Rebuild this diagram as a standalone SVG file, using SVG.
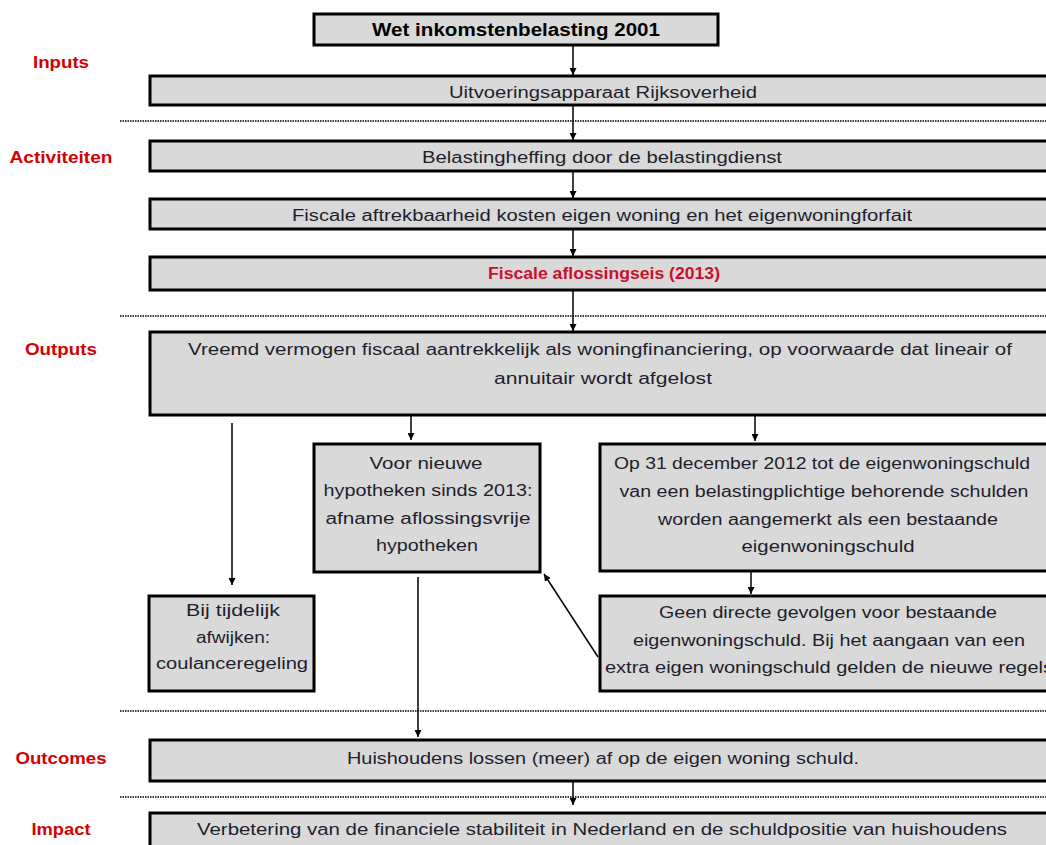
<svg xmlns="http://www.w3.org/2000/svg" width="1046" height="845" viewBox="0 0 1046 845">
<style>
.box{fill:#d9d9d9;stroke:#000;stroke-width:3}
.t{font-family:"Liberation Sans",Arial,sans-serif;font-size:16px;fill:#1e1e2e;text-anchor:middle;dominant-baseline:central}
.tb{font-family:"Liberation Sans",Arial,sans-serif;font-size:18px;font-weight:bold;fill:#000;text-anchor:middle;dominant-baseline:central}
.lbl{font-family:"Liberation Sans",Arial,sans-serif;font-size:16px;font-weight:bold;fill:#d40000;text-anchor:middle;dominant-baseline:central}
.red{fill:#c8102e;font-weight:bold}
.dot{stroke:#000;stroke-width:1.5;stroke-dasharray:1.5 1;fill:none}
.c{stroke:#000;stroke-width:1.5;fill:none;marker-end:url(#ah)}
</style>
<defs>
<marker id="ah" viewBox="0 0 10 10" refX="10" refY="5" markerWidth="7" markerHeight="7" markerUnits="userSpaceOnUse" orient="auto"><path d="M0,0 L10,5 L0,10 z" fill="#000"/></marker>
</defs>
<rect width="1046" height="845" fill="#fff"/>
<g id="labels">
<text class="lbl" x="61" y="62" textLength="56" lengthAdjust="spacingAndGlyphs">Inputs</text>
<text class="lbl" x="61" y="157" textLength="103" lengthAdjust="spacingAndGlyphs">Activiteiten</text>
<text class="lbl" x="61" y="349" textLength="72" lengthAdjust="spacingAndGlyphs">Outputs</text>
<text class="lbl" x="61" y="758" textLength="91" lengthAdjust="spacingAndGlyphs">Outcomes</text>
<text class="lbl" x="61" y="829" textLength="59" lengthAdjust="spacingAndGlyphs">Impact</text>
</g>
<g id="separators">
<line class="dot" x1="120" y1="121" x2="1046" y2="121"/>
<line class="dot" x1="120" y1="316" x2="1046" y2="316"/>
<line class="dot" x1="120" y1="711" x2="1046" y2="711"/>
<line class="dot" x1="120" y1="797" x2="1046" y2="797"/>
</g>
<g id="connectors">
<line class="c" x1="573" y1="46" x2="573" y2="75"/>
<line class="c" x1="573" y1="106" x2="573" y2="140"/>
<line class="c" x1="573" y1="172" x2="573" y2="198"/>
<line class="c" x1="573" y1="230" x2="573" y2="256"/>
<line class="c" x1="573" y1="291" x2="573" y2="331"/>
<line class="c" x1="232" y1="423" x2="232" y2="585"/>
<line class="c" x1="411" y1="416" x2="411" y2="440"/>
<line class="c" x1="755" y1="416" x2="755" y2="441"/>
<line class="c" x1="751" y1="572" x2="751" y2="594"/>
<line class="c" x1="418" y1="577" x2="418" y2="737"/>
<line class="c" x1="598" y1="657" x2="544" y2="574"/>
<line class="c" x1="573" y1="778" x2="573" y2="805"/>
</g>
<g id="n1"><rect class="box" x="314" y="14" width="404" height="31"/><text class="tb" x="516" y="30" textLength="288" lengthAdjust="spacingAndGlyphs">Wet inkomstenbelasting 2001</text></g>
<g id="n2"><rect class="box" x="150" y="76" width="910" height="29"/><text class="t" x="603" y="92" textLength="308" lengthAdjust="spacingAndGlyphs">Uitvoeringsapparaat Rijksoverheid</text></g>
<g id="n3"><rect class="box" x="150" y="141" width="910" height="30"/><text class="t" x="602" y="157" textLength="360" lengthAdjust="spacingAndGlyphs">Belastingheffing door de belastingdienst</text></g>
<g id="n4"><rect class="box" x="150" y="199" width="910" height="30"/><text class="t" x="602" y="215" textLength="620" lengthAdjust="spacingAndGlyphs">Fiscale aftrekbaarheid kosten eigen woning en het eigenwoningforfait</text></g>
<g id="n5"><rect class="box" x="150" y="257" width="910" height="33"/><text class="t red" x="604" y="273" textLength="232" lengthAdjust="spacingAndGlyphs">Fiscale aflossingseis (2013)</text></g>
<g id="n6"><rect class="box" x="150" y="332" width="910" height="83"/>
<text class="t" x="600" y="349" textLength="824" lengthAdjust="spacingAndGlyphs">Vreemd vermogen fiscaal aantrekkelijk als woningfinanciering, op voorwaarde dat lineair of</text>
<text class="t" x="603" y="378" textLength="218" lengthAdjust="spacingAndGlyphs">annuitair wordt afgelost</text></g>
<g id="n7"><rect class="box" x="314" y="444" width="226" height="128"/>
<text class="t" x="426" y="463" font-size="17" textLength="113" lengthAdjust="spacingAndGlyphs">Voor nieuwe</text>
<text class="t" x="428" y="490" font-size="17" textLength="209" lengthAdjust="spacingAndGlyphs">hypotheken sinds 2013:</text>
<text class="t" x="428" y="518" font-size="17" textLength="205" lengthAdjust="spacingAndGlyphs">afname aflossingsvrije</text>
<text class="t" x="427" y="545" font-size="17" textLength="102" lengthAdjust="spacingAndGlyphs">hypotheken</text></g>
<g id="n8"><rect class="box" x="600" y="444" width="460" height="127"/>
<text class="t" x="822" y="463" font-size="17" textLength="416" lengthAdjust="spacingAndGlyphs">Op 31 december 2012 tot de eigenwoningschuld</text>
<text class="t" x="824" y="491" font-size="17" textLength="409" lengthAdjust="spacingAndGlyphs">van een belastingplichtige behorende schulden</text>
<text class="t" x="828" y="519" font-size="17" textLength="340" lengthAdjust="spacingAndGlyphs">worden aangemerkt als een bestaande</text>
<text class="t" x="828" y="546" font-size="17" textLength="173" lengthAdjust="spacingAndGlyphs">eigenwoningschuld</text></g>
<g id="n9"><rect class="box" x="149" y="596" width="165" height="95"/>
<text class="t" x="233" y="610" font-size="17" textLength="94" lengthAdjust="spacingAndGlyphs">Bij tijdelijk</text>
<text class="t" x="233" y="637" font-size="17" textLength="74" lengthAdjust="spacingAndGlyphs">afwijken:</text>
<text class="t" x="232" y="663" font-size="17" textLength="152" lengthAdjust="spacingAndGlyphs">coulanceregeling</text></g>
<g id="n10"><rect class="box" x="600" y="596" width="460" height="95"/>
<text class="t" x="828" y="612" font-size="17" textLength="338" lengthAdjust="spacingAndGlyphs">Geen directe gevolgen voor bestaande</text>
<text class="t" x="829" y="640" font-size="17" textLength="392" lengthAdjust="spacingAndGlyphs">eigenwoningschuld. Bij het aangaan van een</text>
<text class="t" x="829" y="667" font-size="17" textLength="448" lengthAdjust="spacingAndGlyphs">extra eigen woningschuld gelden de nieuwe regels</text></g>
<g id="n11"><rect class="box" x="150" y="740" width="910" height="41"/>
<text class="t" x="603" y="758" textLength="512" lengthAdjust="spacingAndGlyphs">Huishoudens lossen (meer) af op de eigen woning schuld.</text></g>
<g id="n12"><rect class="box" x="150" y="813" width="910" height="45"/>
<text class="t" x="602" y="829" textLength="810" lengthAdjust="spacingAndGlyphs">Verbetering van de financiele stabiliteit in Nederland en de schuldpositie van huishoudens</text></g>
</svg>
